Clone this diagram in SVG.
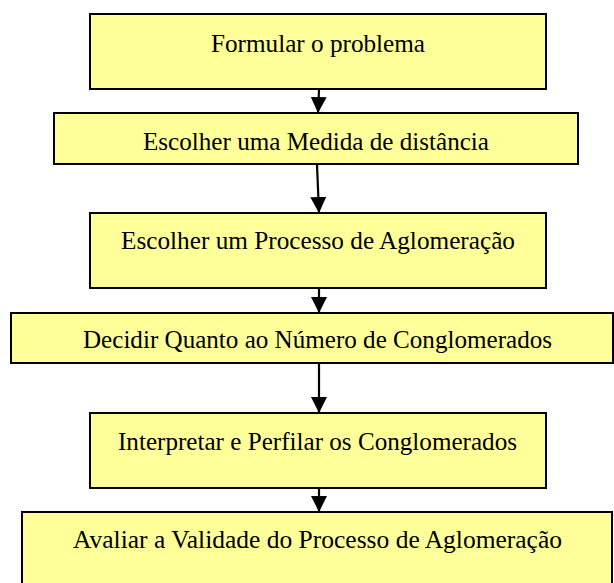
<svg xmlns="http://www.w3.org/2000/svg" width="614" height="583" viewBox="0 0 614 583">
<style>
.box{fill:#FFFF99;stroke:#000;stroke-width:2}
.lbl{font-family:"Liberation Serif","Times New Roman",serif;font-size:26px;fill:#000;text-anchor:middle}
.edge{stroke:#000;stroke-width:2.2;fill:none}
</style>
<defs>
<marker id="ah" markerUnits="userSpaceOnUse" markerWidth="16" markerHeight="18" refX="16" refY="8" orient="auto" viewBox="0 0 16 16">
<path d="M0,0 L16,8 L0,16 Z" fill="#000"/>
</marker>
</defs>
<rect width="614" height="583" fill="#fff"/>
<g id="connectors">
<line class="edge" x1="319" y1="90" x2="318" y2="113" marker-end="url(#ah)"/>
<line class="edge" x1="317" y1="165" x2="319" y2="213" marker-end="url(#ah)"/>
<line class="edge" x1="319" y1="289" x2="319" y2="313" marker-end="url(#ah)"/>
<line class="edge" x1="319" y1="364" x2="319" y2="413" marker-end="url(#ah)"/>
<line class="edge" x1="319" y1="489" x2="319" y2="512" marker-end="url(#ah)"/>
</g>
<g id="n1"><rect class="box" x="90" y="14" width="456" height="75"/><text class="lbl" x="318" y="52" textLength="214" lengthAdjust="spacingAndGlyphs">Formular o problema</text></g>
<g id="n2"><rect class="box" x="54" y="113" width="524" height="51"/><text class="lbl" x="316" y="150" textLength="346" lengthAdjust="spacingAndGlyphs">Escolher uma Medida de distância</text></g>
<g id="n3"><rect class="box" x="90" y="213" width="456" height="75"/><text class="lbl" x="318" y="249" textLength="394" lengthAdjust="spacingAndGlyphs">Escolher um Processo de Aglomeração</text></g>
<g id="n4"><rect class="box" x="11" y="313" width="602" height="50"/><text class="lbl" x="317.5" y="348" textLength="469" lengthAdjust="spacingAndGlyphs">Decidir Quanto ao Número de Conglomerados</text></g>
<g id="n5"><rect class="box" x="90" y="413" width="456" height="75"/><text class="lbl" x="317.5" y="450" textLength="399" lengthAdjust="spacingAndGlyphs">Interpretar e Perfilar os Conglomerados</text></g>
<g id="n6"><rect class="box" x="22" y="512" width="590" height="76"/><text class="lbl" x="317.5" y="548" textLength="489" lengthAdjust="spacingAndGlyphs">Avaliar a Validade do Processo de Aglomeração</text></g>
</svg>
